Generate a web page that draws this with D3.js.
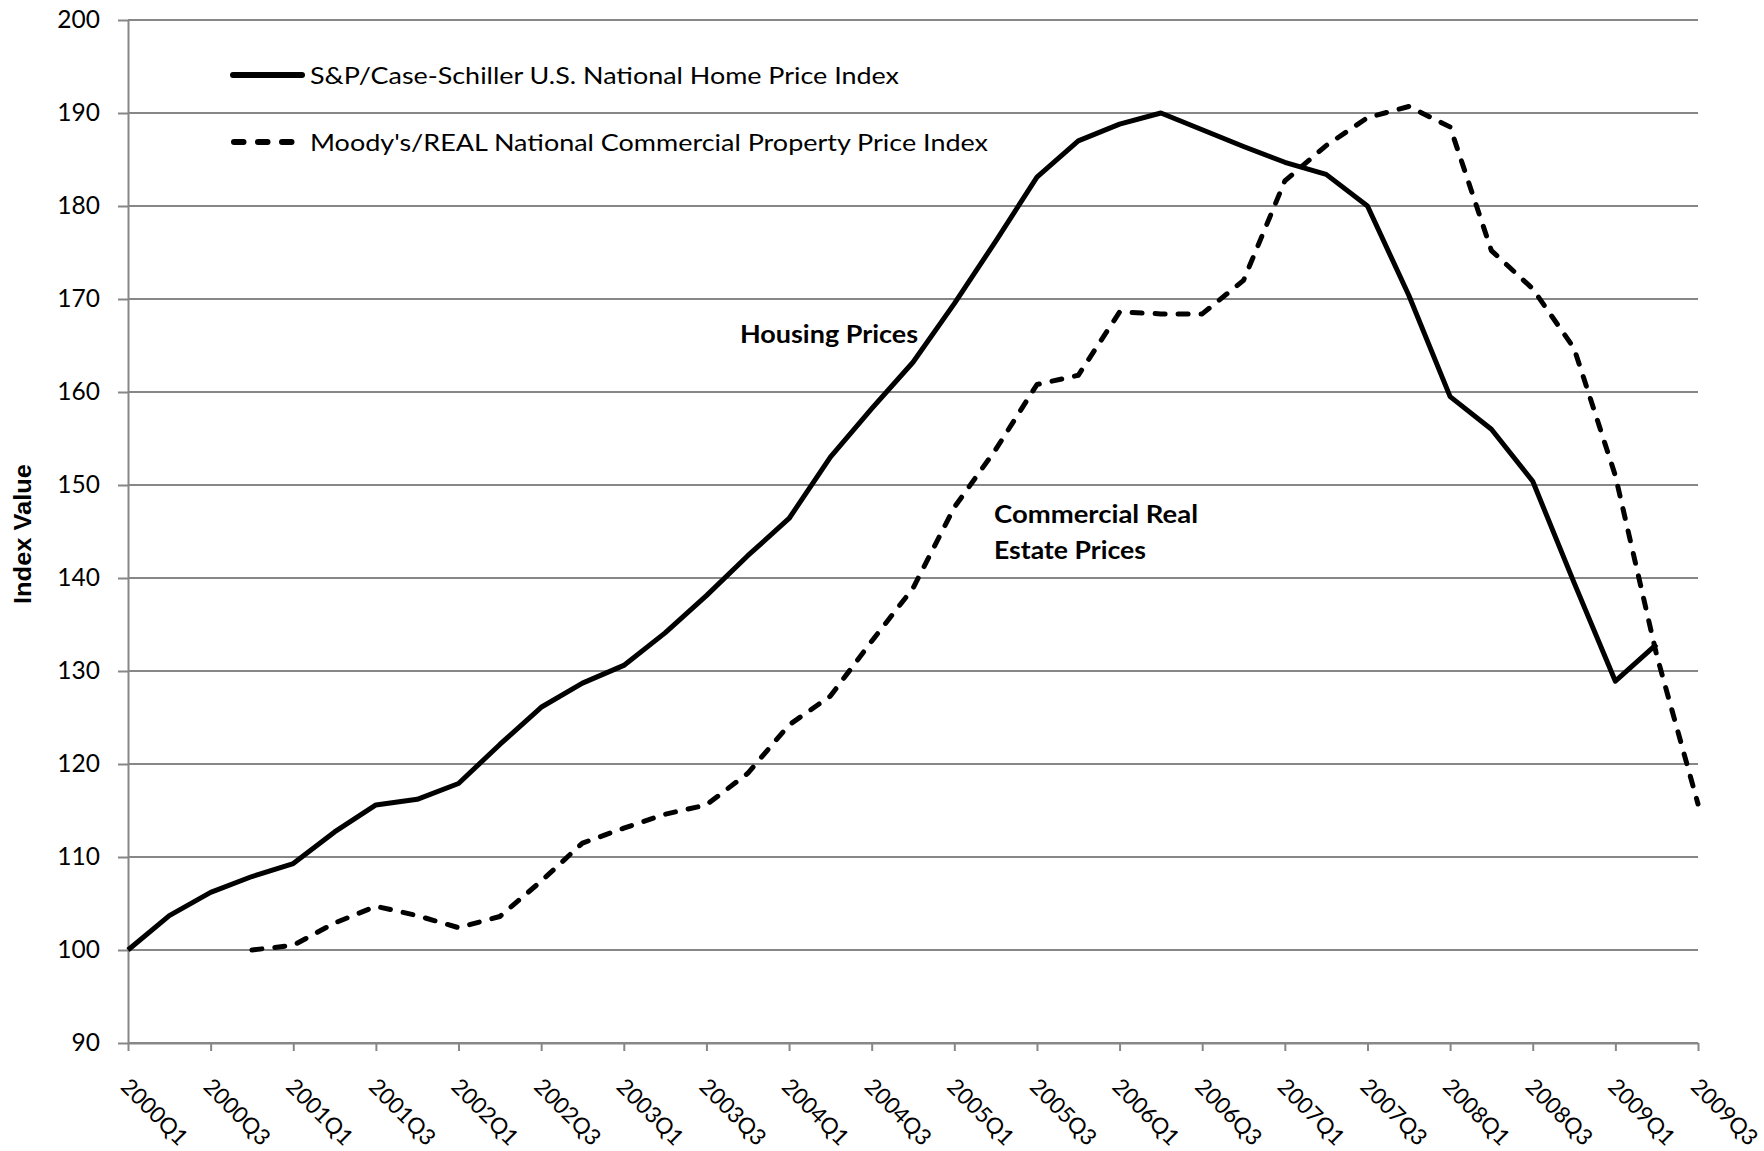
<!DOCTYPE html>
<html><head><meta charset="utf-8">
<script src="https://cdn.jsdelivr.net/npm/d3@7/dist/d3.min.js"></script>
<style>
body{margin:0;background:#fff}
text{font-family:Lato,"Open Sans",sans-serif;fill:#000}
</style>
</head><body>
<svg id="chart" width="1764" height="1151"></svg>
<script>
// ---- data ----
const quarters = ["2000Q1","2000Q2","2000Q3","2000Q4","2001Q1","2001Q2","2001Q3","2001Q4",
  "2002Q1","2002Q2","2002Q3","2002Q4","2003Q1","2003Q2","2003Q3","2003Q4",
  "2004Q1","2004Q2","2004Q3","2004Q4","2005Q1","2005Q2","2005Q3","2005Q4",
  "2006Q1","2006Q2","2006Q3","2006Q4","2007Q1","2007Q2","2007Q3","2007Q4",
  "2008Q1","2008Q2","2008Q3","2008Q4","2009Q1","2009Q2","2009Q3"];
const housing = [100.0,103.7,106.2,107.9,109.3,112.7,115.6,116.2,
  117.9,122.1,126.1,128.7,130.6,134.1,138.1,142.4,
  146.4,153.0,158.2,163.2,169.5,176.2,183.1,187.0,
  188.8,190.0,188.2,186.4,184.7,183.4,180.0,170.4,
  159.5,156.0,150.4,139.5,128.9,132.9,null];
const commercial = [null,null,null,100.0,100.5,102.9,104.7,103.7,
  102.4,103.6,107.4,111.5,113.1,114.6,115.6,119.0,
  124.2,127.3,133.2,138.9,147.6,153.8,160.8,161.8,
  168.6,168.4,168.4,172.0,182.7,186.5,189.5,190.7,
  188.5,175.2,171.1,164.7,151.0,131.7,115.7];
const yTicks = [90,100,110,120,130,140,150,160,170,180,190,200];
const xTickLabels = ["2000Q1","2000Q3","2001Q1","2001Q3","2002Q1","2002Q3","2003Q1","2003Q3",
  "2004Q1","2004Q3","2005Q1","2005Q3","2006Q1","2006Q3","2007Q1","2007Q3",
  "2008Q1","2008Q3","2009Q1","2009Q3"];
const seriesNames = ["S&P/Case-Schiller U.S. National Home Price Index",
  "Moody's/REAL National Commercial Property Price Index"];
const yTitle = "Index Value";
const housingLabel = ["Housing Prices"];
const commercialLabel = ["Commercial Real","Estate Prices"];

// ---- layout ----
const L = 128, R = 1698, T = 20, B = 1043;
const grid = "#878787";
const svg = d3.select("#chart");
const x = d3.scalePoint().domain(quarters).range([L, R]).padding(0);
const y = d3.scaleLinear().domain([90, 200]).range([B, T]);

// gridlines
svg.append("g").selectAll("line").data(yTicks).join("line")
  .attr("x1", L).attr("x2", R)
  .attr("y1", d => y(d)).attr("y2", d => y(d))
  .attr("stroke", grid).attr("stroke-width", 2);

// y axis
const gy = svg.append("g").attr("transform", `translate(${L},0)`)
  .call(d3.axisLeft(y).tickValues(yTicks).tickSize(10).tickSizeOuter(0).tickPadding(18));
gy.select(".domain").attr("stroke", grid).attr("stroke-width", 2);
gy.selectAll(".tick line").attr("stroke", grid).attr("stroke-width", 2);
gy.selectAll(".tick text").style("font-size", "24.5px").attr("fill", "#000");

// x axis
const gx = svg.append("g").attr("transform", `translate(0,${B})`)
  .call(d3.axisBottom(x).tickValues(xTickLabels).tickSize(8).tickSizeOuter(0));
gx.select(".domain").attr("stroke", grid).attr("stroke-width", 2);
gx.selectAll(".tick line").attr("stroke", grid).attr("stroke-width", 2);
gx.selectAll(".tick text")
  .attr("x", 0).attr("y", 0).attr("dy", null)
  .attr("text-anchor", "start")
  .attr("transform", "translate(-9,45) rotate(45)")
  .style("font-size", "22.5px").attr("fill", "#000");

// lines
const line = d3.line()
  .defined(d => d.v != null)
  .x(d => x(d.q)).y(d => y(d.v));
const hData = quarters.map((q, i) => ({q, v: housing[i]}));
const cData = quarters.map((q, i) => ({q, v: commercial[i]}));

svg.append("path").datum(hData).attr("d", line)
  .attr("fill", "none").attr("stroke", "#000").attr("stroke-width", 5)
  .attr("stroke-linejoin", "round");
svg.append("path").datum(cData).attr("d", line)
  .attr("fill", "none").attr("stroke", "#000").attr("stroke-width", 5)
  .attr("stroke-linejoin", "round").attr("stroke-linecap", "round")
  .attr("stroke-dasharray", "10 13");

// legend
const lg = svg.append("g");
lg.append("line").attr("x1", 233).attr("x2", 302).attr("y1", 75).attr("y2", 75)
  .attr("stroke", "#000").attr("stroke-width", 6).attr("stroke-linecap", "round");
lg.append("text").attr("x", 310).attr("y", 84).text(seriesNames[0])
  .style("font-size", "24px").attr("textLength", 589).attr("lengthAdjust", "spacingAndGlyphs");
lg.append("line").attr("x1", 234).attr("x2", 292.5).attr("y1", 142).attr("y2", 142)
  .attr("stroke", "#000").attr("stroke-width", 6).attr("stroke-linecap", "round")
  .attr("stroke-dasharray", "9.5 14.5");
lg.append("text").attr("x", 310).attr("y", 151).text(seriesNames[1])
  .style("font-size", "24px").attr("textLength", 678).attr("lengthAdjust", "spacingAndGlyphs");

// y title
svg.append("text").attr("transform", "translate(31,534) rotate(-90)")
  .attr("text-anchor", "middle").text(yTitle)
  .style("font-family", "'Liberation Sans',Arial,sans-serif").style("font-weight", "bold")
  .style("font-size", "24px").attr("textLength", 140).attr("lengthAdjust", "spacingAndGlyphs");

// annotations
svg.append("text").attr("x", 740).attr("y", 343).text(housingLabel[0])
  .style("font-weight", "bold").style("font-size", "24px")
  .attr("textLength", 178).attr("lengthAdjust", "spacingAndGlyphs");
const cl = [204, 152];
commercialLabel.forEach((t, i) => {
  svg.append("text").attr("x", 994).attr("y", 523 + i * 35.5).text(t)
    .style("font-weight", "bold").style("font-size", "25px")
    .attr("textLength", cl[i]).attr("lengthAdjust", "spacingAndGlyphs");
});
</script>
</body></html>
